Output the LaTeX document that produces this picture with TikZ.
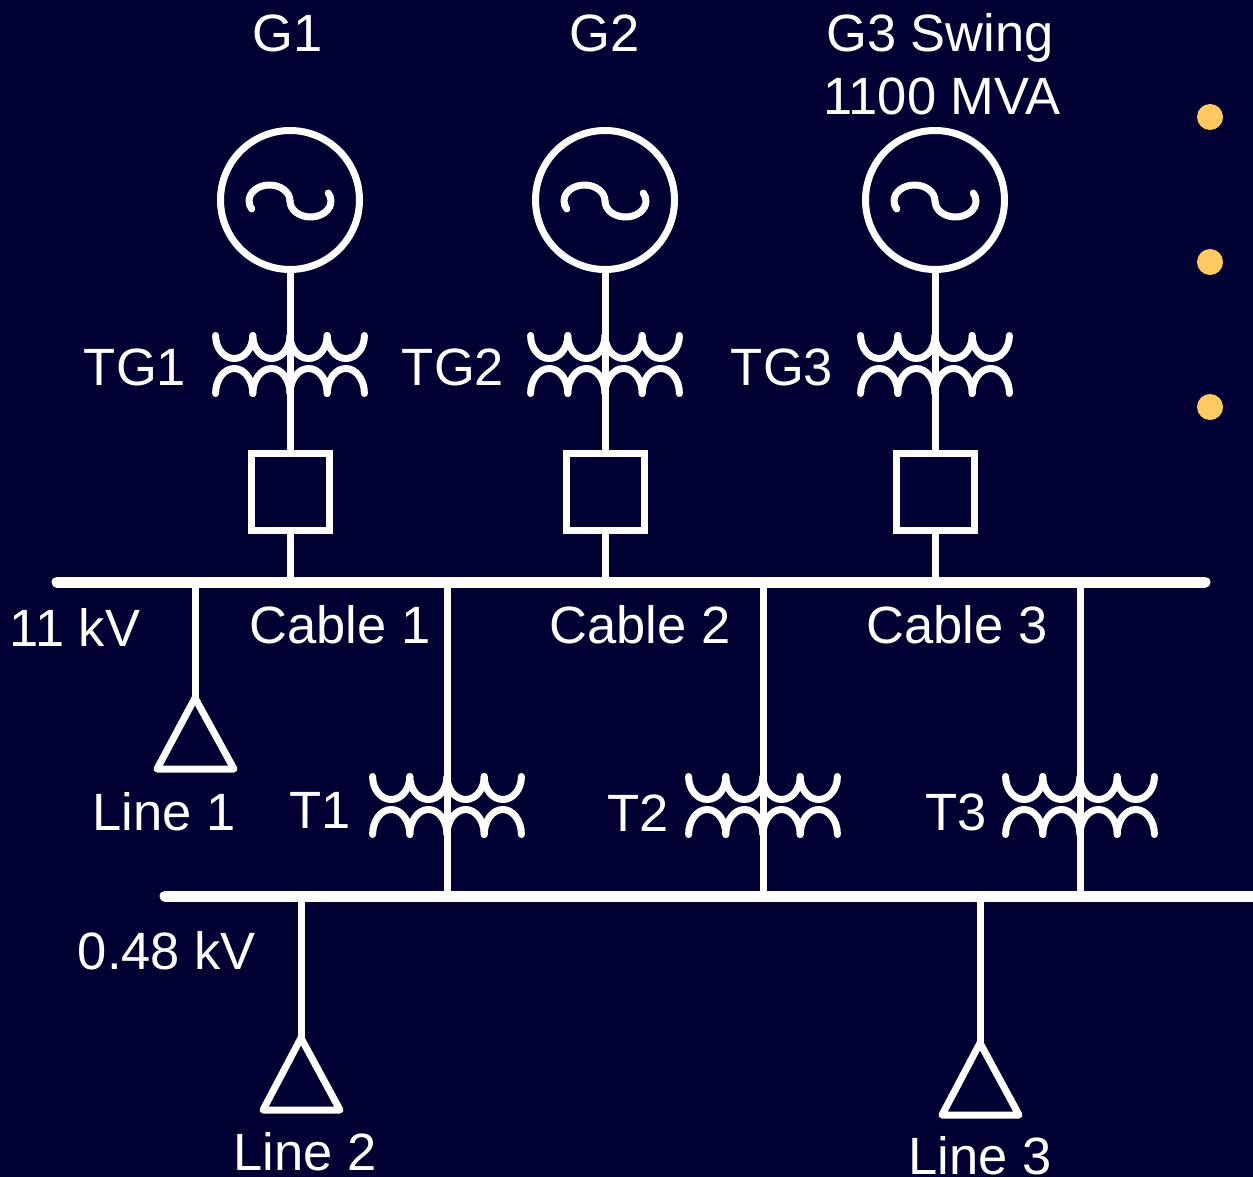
\documentclass[tikz,border=0pt]{standalone}
\usepackage{fontspec}
\setmainfont{Liberation Sans}
\definecolor{bg}{RGB}{0,0,51}
\definecolor{dotc}{RGB}{255,202,98}
\tikzset{
  wire/.style={draw=white,line width=7pt,line cap=round,line join=round},
  bus/.style={draw=white,line width=11pt,line cap=round},
  lbl/.style={text=white,font=\fontsize{52.5}{60}\selectfont,inner sep=0pt,anchor=base},
}
\newcommand\xfmr[2]{%
  \foreach \k in {0,1,2,3}{
    \draw[wire] ({#1-74.4+37.2*\k},{-#2}) arc (180:360:18.6 and 23);
    \draw[wire] ({#1-74.4+37.2*\k},{-#2-58}) arc (180:0:18.6 and 25);
  }}
\newcommand\gensym[2]{%
  \draw[wire] (#1,-#2) circle (69.5);
  \draw[wire] (#1,{-#2-1}) arc (0:210:20.5 and 16);
  \draw[wire] (#1,{-#2-1}) arc (180:390:20.5 and 16);}
\begin{document}
\begin{tikzpicture}[x=1pt,y=1pt]
\fill[bg] (0,0) rectangle (1253,-1177);
\useasboundingbox (0,0) rectangle (1253,-1177);
% generators
\gensym{290}{200}
\gensym{605}{200}
\gensym{935}{200}
\foreach \x/\n in {290/1,605/2,935/3}{
  \coordinate (gb\n) at (\x,-270.5);
  \node[draw=white,line width=7pt,minimum width=78pt,minimum height=77pt,inner sep=0pt] (cb\n) at (\x,-491.5) {};
  \coordinate (bt\n) at (\x,-582);
  \draw[wire] (gb\n) -- (cb\n.north);
  \draw[wire] (cb\n.south) -- (bt\n);
  \xfmr{\x}{335.5}
}
% buses
\coordinate (b11L) at (57,-582);
\coordinate (b11R) at (1205,-582);
\draw[bus] (b11L) -- (b11R);
\coordinate (b48L) at (165,-896);
\coordinate (b48R) at (1265,-896);
\draw[bus] (b48L) -- (b48R);
% cables / step-down transformers
\foreach \x/\n in {447/1,763/2,1080/3}{
  \coordinate (ct\n) at (\x,-582);
  \coordinate (cb48\n) at (\x,-896);
  \draw[wire] (ct\n) -- (cb48\n);
  \xfmr{\x}{776.5}
}
% loads
\coordinate (l1t) at (195,-582);
\coordinate (l1a) at (195,-698);
\draw[wire] (l1t) -- (l1a);
\draw[wire] (l1a) -- (157,-769) -- (234,-769) -- cycle;
\coordinate (l2t) at (301,-896);
\coordinate (l2a) at (301,-1038);
\draw[wire] (l2t) -- (l2a);
\draw[wire] (l2a) -- (263,-1110) -- (340,-1110) -- cycle;
\coordinate (l3t) at (980,-896);
\coordinate (l3a) at (980,-1043);
\draw[wire] (l3t) -- (l3a);
\draw[wire] (l3a) -- (942,-1115) -- (1019,-1115) -- cycle;
% dots
\foreach \y/\n in {117/1,262/2,407/3}{
  \fill[dotc] (1210,-\y) circle (13) coordinate (d\n);
}
% labels
\node[lbl] (tG1) at (288,-52) {G1};
\node[lbl] (tG2) at (605,-52) {G2};
\node[lbl] (tG3) at (940,-52) {G3 Swing};
\node[lbl] (tMVA) at (942,-115) {1100 MVA};
\node[lbl] (tTG1) at (135,-385) {TG1};
\node[lbl] (tTG2) at (453,-385) {TG2};
\node[lbl] (tTG3) at (782,-385) {TG3};
\node[lbl] (t11) at (75,-646) {11 kV};
\node[lbl] (tc1) at (340,-643) {Cable 1};
\node[lbl] (tc2) at (640,-643) {Cable 2};
\node[lbl] (tc3) at (957,-643) {Cable 3};
\node[lbl] (tl1) at (164,-830) {Line 1};
\node[lbl] (tT1) at (320,-828) {T1};
\node[lbl] (tT2) at (638,-831) {T2};
\node[lbl] (tT3) at (956,-830) {T3};
\node[lbl] (t048) at (167,-969) {0.48 kV};
\node[lbl] (tl2) at (305,-1170) {Line 2};
\node[lbl] (tl3) at (980,-1174) {Line 3};
\end{tikzpicture}
\end{document}
